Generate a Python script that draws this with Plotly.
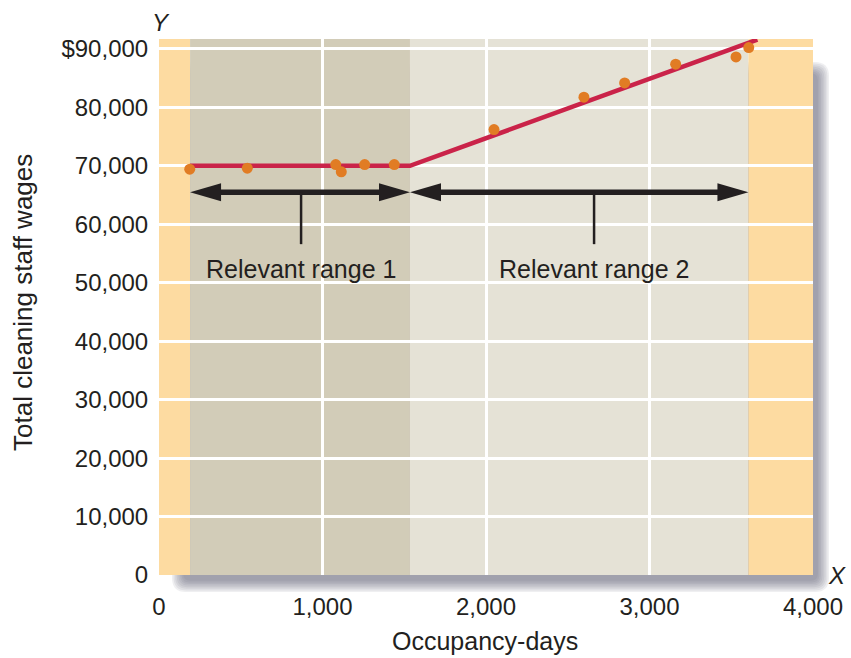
import plotly.graph_objects as go

# Observed cleaning-staff wages by occupancy-days
days = [188, 540, 1081, 1115, 1258, 1439, 2049, 2599, 2848, 3160, 3529, 3607]
wages = [69430, 69600, 70220, 68970, 70220, 70220, 76200, 81750, 84190, 87390, 88640, 90230]

# Piecewise-linear cost function (flat, then rising)
fit_days = [190, 1535, 3660]
fit_wages = [70000, 70000, 91600]

# Relevant ranges: boundaries and labels
range_bounds = [190, 1535, 3605]
range_labels = ["Relevant range 1", "Relevant range 2"]
range_label_x = [869, 2661]
arrow_level = 65500
label_level = 52300
pointer_bottom = 56600

x_ticks = [0, 1000, 2000, 3000, 4000]
x_ticktext = ["0", "1,000", "2,000", "3,000", "4,000"]
y_ticks = [0, 10000, 20000, 30000, 40000, 50000, 60000, 70000, 80000, 90000]
y_ticktext = ["0", "10,000", "20,000", "30,000", "40,000", "50,000",
              "60,000", "70,000", "80,000", "$90,000"]

X_RANGE = [0, 4000]
Y_RANGE = [0, 91700]

FONT = "Liberation Sans, Arial, Helvetica, sans-serif"
INK = "#231F20"
ORANGE_BAND = "#FDDBA1"
DARK_BAND = "#D2CCB8"
LIGHT_BAND = "#E5E2D6"

W, H = 851, 658
ML, MR, MT, MB = 159, 38, 39, 83
PW, PH = W - ML - MR, H - MT - MB


def px_x(px):
    return (px - ML) / PW


def px_y(py):
    return (H - MB - py) / PH


def rounded_rect(x0, y0, x1, y1, r):
    pts = lambda x, y: f"{px_x(x):.5f},{px_y(y):.5f}"
    return (f"M {pts(x0 + r, y0)} L {pts(x1 - r, y0)} Q {pts(x1, y0)} {pts(x1, y0 + r)} "
            f"L {pts(x1, y1 - r)} Q {pts(x1, y1)} {pts(x1 - r, y1)} "
            f"L {pts(x0 + r, y1)} Q {pts(x0, y1)} {pts(x0, y1 - r)} "
            f"L {pts(x0, y0 + r)} Q {pts(x0, y0)} {pts(x0 + r, y0)} Z")


shapes = []

# soft drop shadow behind the plotting panel
for i in range(8):
    inset = i * 1.6
    shapes.append(dict(
        type="path", xref="paper", yref="paper", layer="below",
        path=rounded_rect(ML + 13 + inset, MT + 23 + inset,
                          W - MR + 16 - inset, H - MB + 17 - inset, 14 - i),
        fillcolor="rgb(95,100,115)", opacity=0.1, line=dict(width=0),
    ))

# background bands
bands = [
    (X_RANGE[0], range_bounds[0], ORANGE_BAND),
    (range_bounds[0], range_bounds[1], DARK_BAND),
    (range_bounds[1], range_bounds[2], LIGHT_BAND),
    (range_bounds[2], X_RANGE[1], ORANGE_BAND),
]
for x0, x1, c in bands:
    shapes.append(dict(type="rect", xref="x", yref="y domain", x0=x0, x1=x1, y0=0, y1=1,
                       fillcolor=c, line=dict(width=0), layer="below"))

# double-headed arrows marking each relevant range
head_len = 31 * (X_RANGE[1] - X_RANGE[0]) / PW
head_half = 9 * (Y_RANGE[1] - Y_RANGE[0]) / PH
for k in range(2):
    a, b = range_bounds[k], range_bounds[k + 1]
    shapes.append(dict(type="line", xref="x", yref="y", x0=a + head_len * 0.5, x1=b - head_len * 0.5,
                       y0=arrow_level, y1=arrow_level, line=dict(color=INK, width=5.5)))
    for tip, d in ((a, 1), (b, -1)):
        base = tip + d * head_len
        shapes.append(dict(
            type="path", xref="x", yref="y",
            path=(f"M {tip},{arrow_level} L {base},{arrow_level + head_half} "
                  f"L {base},{arrow_level - head_half} Z"),
            fillcolor=INK, line=dict(width=0)))
    shapes.append(dict(type="line", xref="x", yref="y", x0=range_label_x[k], x1=range_label_x[k],
                       y0=arrow_level, y1=pointer_bottom, line=dict(color=INK, width=2.5)))

fig = go.Figure()
fig.add_trace(go.Scatter(x=fit_days, y=fit_wages, mode="lines",
                         line=dict(color="#CA2349", width=4.5), cliponaxis=False,
                         hoverinfo="skip", showlegend=False))
fig.add_trace(go.Scatter(x=days, y=wages, mode="markers",
                         marker=dict(color="#E17C24", size=11, line=dict(width=0)),
                         cliponaxis=False, showlegend=False))

txt = dict(size=24, color=INK, family=FONT)
title_txt = dict(size=25, color=INK, family=FONT)
annotations = []
for k in range(2):
    annotations.append(dict(x=range_label_x[k], y=label_level, xref="x", yref="y",
                            text=range_labels[k], showarrow=False, font=title_txt,
                            xanchor="center", yanchor="middle"))
annotations += [
    dict(x=px_x(23), y=px_y(303), xref="paper", yref="paper", text="Total cleaning staff wages",
         textangle=-90, showarrow=False, font=dict(size=26, color=INK, family=FONT),
         xanchor="center", yanchor="middle"),
    dict(x=px_x(485), y=px_y(641), xref="paper", yref="paper", text="Occupancy-days",
         showarrow=False, font=title_txt, xanchor="center", yanchor="middle"),
    dict(x=px_x(161), y=px_y(22), xref="paper", yref="paper", text="<i>Y</i>",
         showarrow=False, font=txt, xanchor="center", yanchor="middle"),
    dict(x=px_x(837), y=px_y(575), xref="paper", yref="paper", text="<i>X</i>",
         showarrow=False, font=txt, xanchor="center", yanchor="middle"),
]

fig.update_layout(
    width=W, height=H,
    margin=dict(l=ML, r=MR, t=MT, b=MB, pad=0, autoexpand=False),
    paper_bgcolor="white", plot_bgcolor="rgba(0,0,0,0)",
    font=dict(family=FONT, size=24, color=INK),
    shapes=shapes, annotations=annotations, showlegend=False,
    xaxis=dict(range=X_RANGE, tickvals=x_ticks, ticktext=x_ticktext, automargin=False,
               showgrid=True, gridcolor="white", gridwidth=2.5, zeroline=False,
               showline=False, ticks="outside", ticklen=10, tickcolor="rgba(0,0,0,0)",
               tickfont=txt, fixedrange=True),
    yaxis=dict(range=Y_RANGE, tickvals=y_ticks, ticktext=y_ticktext, automargin=False,
               showgrid=True, gridcolor="white", gridwidth=2.5, zeroline=False,
               showline=False, ticks="outside", ticklen=5, tickcolor="rgba(0,0,0,0)",
               tickfont=txt, fixedrange=True),
)

fig.write_html("out.html")
